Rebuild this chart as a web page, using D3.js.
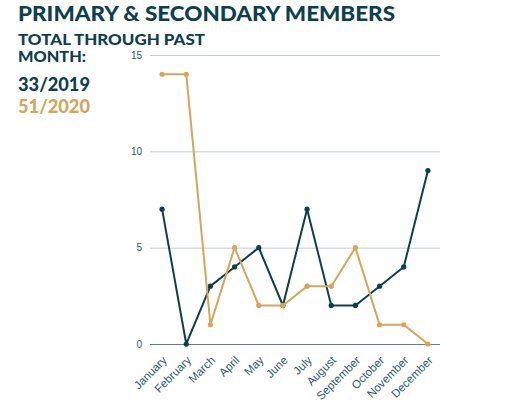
<!DOCTYPE html>
<html><head><meta charset="utf-8">
<script src="https://cdn.jsdelivr.net/npm/d3@7"></script>
<style>body{margin:0;background:#fff}svg{display:block}</style>
</head><body>
<svg id="c" width="526" height="405"></svg>
<script>
const months = ["January","February","March","April","May","June","July","August","September","October","November","December"];
const series2019 = [7,0,3,4,5,2,7,2,2,3,4,9];
const series2020 = [14,14,1,5,2,2,3,3,5,1,1,0];
const yTicks = [0,5,10,15];
const titleText = "PRIMARY & SECONDARY MEMBERS";
const subLines = ["TOTAL THROUGH PAST","MONTH:"];
const totals = [{t:"33/2019",c:"#0e3f4e"},{t:"51/2020",c:"#d4a55a"}];

const svg = d3.select("#c");
const dark = "#0e3f4e", gold = "#d4a55a";
const x = d3.scalePoint().domain(months).range([150,440]).padding(0.5);
const y = d3.scaleLinear().domain([0,15]).range([344,55]);

svg.append("text").attr("x",18).attr("y",21).attr("fill",dark)
  .attr("font-family","Lato").attr("font-weight",900).attr("font-size",21)
  .attr("textLength",377).attr("lengthAdjust","spacingAndGlyphs").text(titleText);
subLines.forEach((s,i)=>{
  const t = svg.append("text").attr("x",18).attr("y",45+i*17).attr("fill",dark)
   .attr("font-family","Lato").attr("font-weight",900).attr("font-size",15).text(s);
  t.attr("textLength",i===0?187:68).attr("lengthAdjust","spacingAndGlyphs");
});
totals.forEach((d,i)=>{
  svg.append("text").attr("x",18).attr("y",91+i*22).attr("fill",d.c)
   .attr("font-family","Lato").attr("font-weight",900).attr("font-size",18)
   .attr("textLength",72).attr("lengthAdjust","spacingAndGlyphs").text(d.t);
});

// grid
const yAxis = d3.axisLeft(y).tickValues(yTicks).tickSize(0).tickPadding(8);
const ga = svg.append("g").attr("transform","translate(150,0)").call(yAxis);
ga.select(".domain").remove();
ga.selectAll("text").attr("fill","#2d5a6a").attr("font-family","Liberation Sans").attr("font-size",10);
svg.append("g").selectAll("line").data(yTicks).join("line")
  .attr("x1",150).attr("x2",440).attr("y1",d=>y(d)+0.5).attr("y2",d=>y(d)+0.5)
  .attr("stroke",d=>d===0?"#5b8290":"#c3ccd2").attr("stroke-width",1);

const xAxis = d3.axisBottom(x).tickSize(0).tickPadding(0);
const gx = svg.append("g").attr("transform","translate(0,344)").call(xAxis);
gx.select(".domain").remove();
gx.selectAll("text").attr("fill","#2d5a6a").attr("font-family","Liberation Sans").attr("font-size",11.5)
  .attr("text-anchor","end").attr("dy",null).attr("transform","translate(5,17) rotate(-45)");

const line = d3.line().x((d,i)=>x(months[i])).y(d=>y(d));
[[series2019,dark],[series2020,gold]].forEach(([s,c])=>{
  svg.append("path").datum(s).attr("d",line).attr("fill","none").attr("stroke",c).attr("stroke-width",2);
  svg.append("g").selectAll("circle").data(s).join("circle")
    .attr("cx",(d,i)=>x(months[i])).attr("cy",d=>y(d)).attr("r",2.6).attr("fill",c);
});
</script>
</body></html>
